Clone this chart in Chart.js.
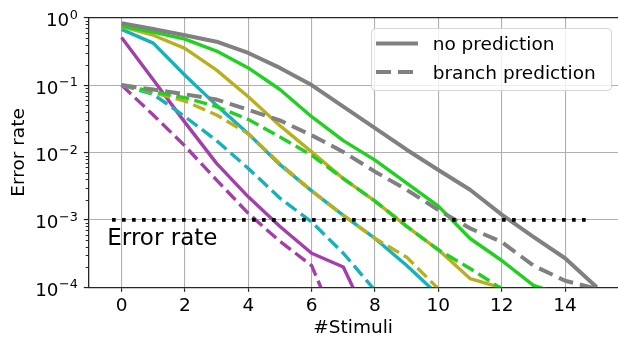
<!DOCTYPE html>
<html>
<head>
<meta charset="utf-8">
<script src="https://cdn.jsdelivr.net/npm/chart.js@4/dist/chart.umd.min.js"></script>
<style>
  html, body { margin: 0; padding: 0; background: #fff; overflow: hidden; }
  #wrap { width: 618px; height: 341px; }
</style>
</head>
<body>
<div id="wrap"><canvas id="chart" width="618" height="341"></canvas></div>
<script>
/* ==========================================
   DATA
   ========================================== */

const STIMULI = [0, 1, 2, 3, 4, 5, 6, 7, 8, 9, 10, 11, 12, 13, 14, 15];

// solid = no prediction, dashed = branch prediction
const grayNoPred   = [0.83, 0.68, 0.55, 0.44, 0.30, 0.18, 0.10, 0.048, 0.023, 0.011, 0.0055, 0.0028, 0.0012, 0.00056, 0.00027, 0.0001];
const grayBranch   = [0.1, 0.086, 0.073, 0.061, 0.043, 0.030, 0.018, 0.0102, 0.0052, 0.0028, 0.0014, 0.00075, 0.00047, 0.00021, 0.000125, 0.000095];
const greenNoPred  = [0.75, 0.61, 0.48, 0.32, 0.18, 0.086, 0.034, 0.015, 0.0077, 0.0035, 0.0016, 0.00053, 0.00025, 0.000107, 0.000075];
const greenBranch  = [0.1, 0.08, 0.065, 0.048, 0.031, 0.017, 0.0091, 0.0041, 0.0019, 0.0008, 0.00036, 0.00019, 0.000095];
const oliveNoPred  = [0.74, 0.55, 0.35, 0.167, 0.067, 0.025, 0.0102, 0.0041, 0.0019, 0.0008, 0.00036, 0.000135, 0.000098];
const oliveBranch  = [0.1, 0.077, 0.058, 0.036, 0.019, 0.0068, 0.0027, 0.00117, 0.00053, 0.00028, 0.000095];
const cyanNoPred   = [0.67, 0.42, 0.14, 0.05, 0.019, 0.0066, 0.0027, 0.00117, 0.00053, 0.00021, 0.000077];
const cyanBranch   = [0.1, 0.073, 0.034, 0.015, 0.0058, 0.0021, 0.00093, 0.00032, 0.00009];
const purpleNoPred = [0.51, 0.12, 0.028, 0.0069, 0.0022, 0.0008, 0.00032, 0.0002, 0.00002];
const purpleBranch = [0.1, 0.036, 0.0125, 0.0039, 0.00125, 0.00048, 0.00021, 0.000016];

const THRESHOLD = 1e-3;
const THRESHOLD_SPAN = [-0.3, 14.8];
const THRESHOLD_LABEL = "Error rate";

const X_TICKS = [0, 2, 4, 6, 8, 10, 12, 14];
const Y_TICKS = [1e-4, 1e-3, 1e-2, 1e-1, 1];
const X_TITLE = "#Stimuli";
const Y_TITLE = "Error rate";
const LEGEND_LABELS = ["no prediction", "branch prediction"];

/* STYLE */
const FONT = '"DejaVu Sans", sans-serif';
const GRAY = "#808080";
const PURPLE = "#a33fa8";
const CYAN = "#17b1bb";
const OLIVE = "#b9b021";
const GREEN = "#21d021";
const AXIS = "#262626";

const DASH = [13, 5.6];
const GRAY_DASH = [15, 7];

function pts(values) {
  return values.map((v, i) => ({ x: STIMULI[i], y: v }));
}

function line(values, color, dashed, width) {
  return {
    data: pts(values),
    borderColor: color,
    borderWidth: width,
    borderDash: dashed ? (color === GRAY ? GRAY_DASH : DASH) : [],
    borderCapStyle: "butt",
    borderJoinStyle: "round",
    pointRadius: 0,
    tension: 0,
    clip: 0,
    order: dashed ? 1 : 2
  };
}

const threshold = {
  data: THRESHOLD_SPAN.map(x => ({ x, y: THRESHOLD })),
  borderColor: "#000",
  borderWidth: 3.6,
  borderDash: [3.6, 6.4],
  borderCapStyle: "butt",
  pointRadius: 0,
  clip: 0,
  order: 0
};

const datasets = [
  threshold,
  line(grayNoPred, GRAY, false, 4),
  line(greenNoPred, GREEN, false, 3.4),
  line(oliveNoPred, OLIVE, false, 3.4),
  line(cyanNoPred, CYAN, false, 3.4),
  line(purpleNoPred, PURPLE, false, 3.4),
  line(grayBranch, GRAY, true, 4),
  line(greenBranch, GREEN, true, 3.4),
  line(oliveBranch, OLIVE, true, 3.4),
  line(cyanBranch, CYAN, true, 3.4),
  line(purpleBranch, PURPLE, true, 3.4)
];

/* OVERLAY: top spine, y labels, minor ticks, annotation, legend */
const overlay = {
  id: "overlay",
  afterDatasetsDraw(chart) {
    const { ctx, chartArea: a, scales: { x, y } } = chart;
    ctx.save();

    // top spine
    ctx.strokeStyle = AXIS;
    ctx.lineWidth = 1.3;
    ctx.beginPath();
    ctx.moveTo(a.left, a.top);
    ctx.lineTo(a.right, a.top);
    ctx.stroke();

    // threshold annotation
    ctx.fillStyle = "#000";
    ctx.font = "23px " + FONT;
    ctx.textBaseline = "alphabetic";
    ctx.textAlign = "left";
    ctx.fillText(THRESHOLD_LABEL, x.getPixelForValue(-0.45), y.getPixelForValue(THRESHOLD) + 25);

    // legend box
    const bx = 371, by = 28, bw = 240, bh = 62;
    ctx.fillStyle = "rgba(255,255,255,0.8)";
    ctx.strokeStyle = "rgba(204,204,204,0.8)";
    ctx.lineWidth = 1;
    ctx.beginPath();
    ctx.roundRect(bx + 0.5, by + 0.5, bw, bh, 4);
    ctx.fill();
    ctx.stroke();

    const rows = [43.5, 72];
    LEGEND_LABELS.forEach((label, i) => {
      ctx.strokeStyle = GRAY;
      ctx.lineWidth = 4;
      ctx.lineCap = "butt";
      ctx.setLineDash(i === 0 ? [] : GRAY_DASH);
      ctx.beginPath();
      ctx.moveTo(376, rows[i]);
      ctx.lineTo(418, rows[i]);
      ctx.stroke();
      ctx.setLineDash([]);
      ctx.fillStyle = "#000";
      ctx.font = "18.5px " + FONT;
      ctx.fillText(label, 432.7, rows[i] + 6.5);
    });

    ctx.restore();
  },
  afterDraw(chart) {
    const { ctx, scales: { y } } = chart;
    ctx.save();

    // minor ticks on the log axis
    ctx.strokeStyle = AXIS;
    ctx.lineWidth = 1;
    for (let e = -4; e < 0; e++) {
      for (let k = 2; k <= 9; k++) {
        const py = Math.round(y.getPixelForValue(k * Math.pow(10, e))) + 0.5;
        ctx.beginPath();
        ctx.moveTo(y.right - 2.6, py);
        ctx.lineTo(y.right, py);
        ctx.stroke();
      }
    }

    // y tick labels 10^n
    const right = y.right - 11;
    ctx.fillStyle = "#000";
    ctx.textBaseline = "alphabetic";
    ctx.textAlign = "left";
    Y_TICKS.forEach(v => {
      const py = y.getPixelForValue(v);
      const exp = Math.round(Math.log10(v));
      const sup = exp === 0 ? "0" : "\u2212" + (-exp);
      ctx.font = "18.3px " + FONT;
      const wb = ctx.measureText("10").width;
      ctx.font = "12.8px " + FONT;
      const ws = ctx.measureText(sup).width;
      const x0 = right - wb - ws;
      ctx.font = "18.3px " + FONT;
      ctx.fillText("10", x0, py + 8.5);
      ctx.font = "12.8px " + FONT;
      ctx.fillText(sup, x0 + wb + 0.5, py + 1);
    });

    ctx.restore();
  }
};

/* CHART */
const chart = new Chart(document.getElementById("chart").getContext("2d"), {
  type: "line",
  data: { datasets },
  plugins: [overlay],
  options: {
    responsive: false,
    devicePixelRatio: 1,
    animation: false,
    layout: { padding: { top: 17.7, left: 0, right: 0, bottom: 0 } },
    plugins: { legend: { display: false }, tooltip: { enabled: false } },
    scales: {
      x: {
        type: "linear",
        min: -1.05,
        max: 15.67,
        afterBuildTicks: s => { s.ticks = X_TICKS.map(v => ({ value: v })); },
        afterFit: s => { s.height = 53.7; },
        ticks: {
          font: { family: FONT, size: 18.5 },
          color: "#000",
          padding: 3,
          maxRotation: 0,
          callback: v => String(v)
        },
        grid: { color: "#b0b0b0", lineWidth: 1.1, tickLength: 4.5, tickColor: AXIS, tickWidth: 1.2 },
        border: { color: AXIS, width: 1.3 },
        title: {
          display: true,
          text: X_TITLE,
          color: "#000",
          font: { family: FONT, size: 18.5 },
          padding: { top: 0, bottom: 2.1 }
        }
      },
      y: {
        type: "logarithmic",
        min: 1e-4,
        max: 1,
        afterBuildTicks: s => { s.ticks = Y_TICKS.map(v => ({ value: v })); },
        afterFit: s => { s.width = 88.3; },
        ticks: { display: false },
        grid: { color: "#b0b0b0", lineWidth: 1.1, tickLength: 4.5, tickColor: AXIS, tickWidth: 1.2 },
        border: { color: AXIS, width: 1.3 },
        title: {
          display: true,
          text: Y_TITLE,
          color: "#000",
          font: { family: FONT, size: 18.5 },
          padding: { top: 8.4, bottom: 0 }
        }
      }
    }
  }
});
</script>
</body>
</html>
